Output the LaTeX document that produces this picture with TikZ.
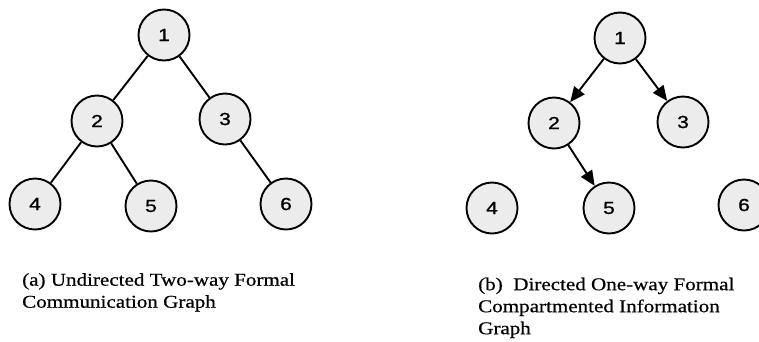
\documentclass[tikz,border=0pt]{standalone}
\usepackage{fontspec}
\setmainfont{Liberation Serif}[FakeStretch=1.17,FakeBold=0.6]
\newfontfamily\numfont{Liberation Sans}[FakeStretch=1.2,FakeBold=1]
\usetikzlibrary{arrows.meta}
\tikzset{
  vert/.style={circle, draw, line width=1.9pt, fill=gray!15, minimum size=51pt, inner sep=0pt,
    font=\numfont\fontsize{17.5}{17.5}\selectfont},
  edge/.style={line width=1.9pt},
  arc/.style={line width=1.9pt, -{Triangle[length=15pt,width=13pt]}},
  caption/.style={anchor=north west, inner sep=0pt, align=left,
    font=\fontsize{18}{22}\selectfont}
}
\begin{document}
\begin{tikzpicture}[x=1pt,y=-1pt]
\clip (0,0) rectangle (759,341);
\useasboundingbox (0,0) rectangle (759,341);
% (a)
\node[vert] (a1) at (164,35) {1};
\node[vert] (a2) at (97,121) {2};
\node[vert] (a3) at (225,119) {3};
\node[vert] (a4) at (35,204) {4};
\node[vert] (a5) at (151,206) {5};
\node[vert] (a6) at (286,204) {6};
\draw[edge] (a1) -- (a2);
\draw[edge] (a1) -- (a3);
\draw[edge] (a2) -- (a4);
\draw[edge] (a2) -- (a5);
\draw[edge] (a3) -- (a6);
\node[caption] (capa) at (22,273) {(a) Undirected Two-way Formal\\Communication Graph};
% (b)
\node[vert] (b1) at (620,38) {1};
\node[vert] (b2) at (554,123) {2};
\node[vert] (b3) at (683,122) {3};
\node[vert] (b4) at (492,208) {4};
\node[vert] (b5) at (609,208) {5};
\node[vert] (b6) at (744,205) {6};
\draw[arc] (b1) -- (b2);
\draw[arc] (b1) -- (b3);
\draw[arc] (b2) -- (b5);
\node[caption] (capb) at (478,277.5) {(b)~ Directed One-way Formal\\Compartmented Information\\Graph};
\end{tikzpicture}
\end{document}
